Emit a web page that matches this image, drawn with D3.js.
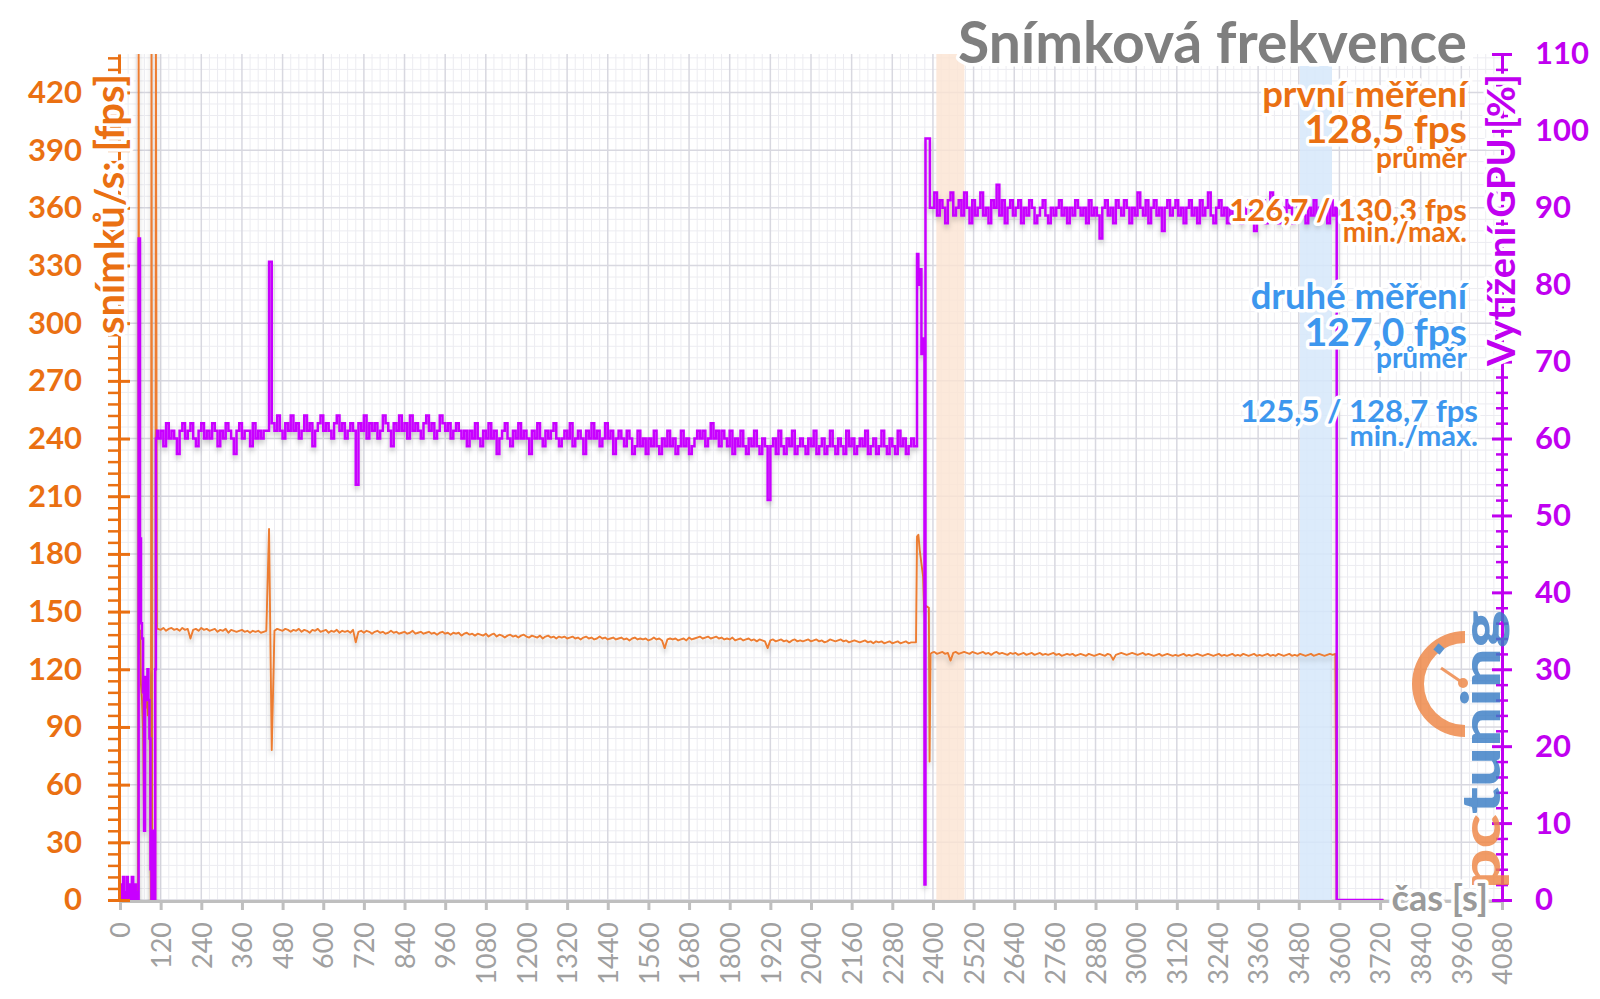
<!DOCTYPE html>
<html><head><meta charset="utf-8">
<script src="https://cdn.jsdelivr.net/npm/d3@7"></script>
<style>body{margin:0;background:#fff}svg{display:block}text{font-family:Lato,"Open Sans",sans-serif}</style>
</head><body><svg id="c" width="1600" height="999"></svg>
<script>
// ---------- DATA ----------
const xTicks = d3.range(0, 4081, 120);
const fpsTicks = d3.range(0, 421, 30);
const gpuTicks = d3.range(0, 111, 10);

// irregular start section [time s, value]
const gpuStart = [[0,0],[3,2],[6,0],[9,3],[12,0],[16,1],[20,3],[23,0],[27,2],[31,0],[35,3],[39,0],[43,2],[47,0],[52,1],[54,0],[55,86],[59,47],[62,36],[65,34],[68,27],[71,9],[74,29],[77,26],[81,30],[84,26],[87,21],[90,4],[93,0],[97,9],[101,0],[104,30],[106,60],[109,61]];
const fpsStart = [[0,0],[53,0],[55,460],[57,128],[60,140],[62,112],[65,104],[68,88],[71,40],[73,110],[76,100],[79,112],[82,96],[85,104],[88,82],[91,0],[93,460],[95,0],[104,0],[106,460],[109,141]];

// first run: samples every 8 s from 112 s
const run1Start = 112, run2Start = 2396, runStep = 8;
const gpuRun1 = [
60,61,59,62,60,61,60,58,61,62, 60,61,62,60,59,61,62,60,61,60, 62,61,59,61,60,62,61,60,58,61, 62,60,61,61,59,62,60,61,60,61,
61,83,62,61,63,61,60,62,61,63, 61,62,60,61,63,61,62,59,61,62, 63,61,62,61,60,62,63,61,62,60, 61,62,61,54,62,61,63,60,62,61,
62,60,61,63,62,61,59,62,61,63, 61,62,60,63,61,62,61,60,62,63, 61,62,60,61,63,62,61,62,60,61, 62,61,60,61,59,61,60,62,60,59,
61,60,62,60,61,58,60,61,62,60, 59,61,60,62,60,61,60,58,61,60, 62,60,59,61,60,61,62,60,59,60, 61,60,62,59,60,61,60,58,61,60,
62,60,61,59,60,62,60,61,58,60, 61,60,59,61,60,58,59,61,59,60, 58,60,59,61,59,58,60,59,61,59, 60,58,59,61,59,60,58,59,60,61,
60,61,59,60,62,60,61,59,61,60, 59,61,58,60,59,61,59,58,60,59, 61,59,58,60,59,52,59,60,58,61, 59,58,60,59,61,58,59,60,59,58,
60,59,61,58,59,60,58,59,61,59, 58,60,59,58,61,59,60,58,59,60, 59,61,58,59,60,58,59,61,59,58, 60,59,58,61,59,60,58,59,60,59];
const fpsRun1 = [
141,140.5,141.5,140,141,141.5,140.5,141,140,141.5, 140.5,141,136,140.5,141,140,141.5,140.5,141,140,
140.5,141,139.5,140.5,140,141,139,140.5,140,139.5, 140,140.5,139.5,140,139,140,139.5,140,139,139.5,
140,193,78,140,141,140.5,140,141,140.5,139.5, 140.5,140,141,139.5,140.5,140,139,140.5,140,141,
139.5,140,140.5,139,140,139.5,140.5,139,140,139.5, 140,139,140.5,134,139.5,140,139,140,139.5,138.5,
139.5,140,139,139.5,138.5,139,140,139,139.5,138.5, 139,139.5,138.5,139,140,138.5,139,139.5,138.5,139,
139.5,138.5,139,138,139,139.5,138.5,139,138,139, 138.5,139,137.5,138.5,139,138,138.5,137.5,138.5,138,
137.5,138.5,137,138,138.5,137,138,137.5,136.5,137.5, 138,137,137.5,136.5,137.5,138,137,136.5,137.5,137,
136.5,137.5,136,137,137.5,136.5,137,136,137,136.5, 137,136,136.5,137,136,136.5,135.5,136.5,137,136,
136.5,135.5,136,137,136,136.5,135.5,136,136.5,135.5, 136,136.5,135.5,136,135,136,136.5,135.5,136,135.5,
136,135,135.5,136.5,135.5,136,135,131,135.5,136, 135.5,136,135,135.5,136,135,136.5,135.5,136,136.5,
137,136,136.5,137,136,136.5,137,136,136.5,135.5, 136,135.5,136.5,135,135.5,136,135,135.5,136,135,
135.5,134.5,135.5,135,134.5,131,135,135.5,134.5,135, 135.5,134.5,135,134,135,135.5,134.5,135,134.5,135,
135.5,134.5,135,135.5,134.5,135,134,134.5,135.5,135, 134.5,135,135.5,134.5,135,134,134.5,135,134.5,134,
134.5,135,134,134.5,133.5,134.5,134,134.5,133.5,134, 134.5,133.5,134,134.5,133.5,134,134.5,133.5,134,134];

// transition between the two measurements [time s, value]
const gpuMid = [[2350,59],[2353,84],[2357,80],[2360,82],[2366,71],[2371,73],[2375,2],[2378,99],[2388,99],[2391,90]];
const fpsMid = [[2350,134],[2353,189],[2357,190],[2361,182],[2366,175],[2371,168],[2374,150],[2379,153],[2388,152],[2390,72],[2393,128]];

// second run: samples every 8 s from 2396 s
const gpuRun2 = [
90,92,89,91,90,88,91,92,89,90, 91,89,92,90,88,91,89,90,92,89, 90,88,91,90,93,89,91,88,90,91, 89,90,91,88,90,89,91,90,88,89,
90,91,89,88,90,89,90,91,89,90, 88,90,89,91,90,89,90,88,91,89, 90,89,86,90,91,89,90,88,91,90, 89,91,90,88,90,89,92,90,89,91,
88,90,91,89,90,87,90,91,89,90, 91,89,90,88,90,91,89,90,88,91, 89,90,92,89,88,90,91,89,90,88, 90,89,91,90,88,89,90,91,89,87,
90,89,91,88,90,92,89,90,88,90, 89,91,90,88,89,90,91,89,88,90, 89,91,88,90,89,90,88,91,89,90];
const fpsRun2 = [
128.5,129,128,128.5,129,128,128.5,124.5,128.5,129, 128,128.5,129,128.5,128,129,128.5,128,128.5,129,
128,128.5,127.5,128.5,129,128,128.5,128,127.5,128.5, 128,128.5,127.5,128,128.5,127.5,128,128.5,127.5,128,
128.5,127.5,128,127.5,128,128.5,127.5,128,127,127.5, 128,127.5,128,127,127.5,128,127.5,127,128,127.5,
127,127.5,128,127.5,127,128,127.5,125,127.5,128, 128.5,128,127.5,128,128.5,128,127.5,128,128.5,127.5,
128,127.5,127,127.5,128,127,127.5,128,127.5,127, 127.5,127,127.5,128,127,127.5,127,127.5,128,127.5,
127,127.5,128,127.5,127,127.5,128,127,127.5,127, 127.5,128,127,127.5,127,128,127.5,127,127.5,128,
127,127.5,127,127.5,128,127,127.5,127,128,127.5, 127,127.5,128,127,127.5,127,128,127.5,127,127.5,
128,127,127.5,128,127.5,127,127.5,128,127.5,128];

const gpuEnd = [[3592,0],[3730,0]];
const fpsEnd = [[3592,0],[3730,0]];

// highlighted intervals [from s, to s]
const bandFirst = [2410, 2493];
const bandSecond = [3483, 3578];

const titleText = "Snímková frekvence";
const first = ["první měření","128,5 fps","průměr","126,7 / 130,3 fps","min./max."];
const second = ["druhé měření","127,0 fps","průměr","125,5 / 128,7 fps","min./max."];

// ---------- BUILD ----------
const runPts = (start, arr) => arr.map((v,i)=>[start + i*runStep, v]);
const gpuData = [...gpuStart, ...runPts(run1Start,gpuRun1), ...gpuMid, ...runPts(run2Start,gpuRun2), ...gpuEnd];
const fpsData = [...fpsStart, ...runPts(run1Start,fpsRun1), ...fpsMid, ...runPts(run2Start,fpsRun2), ...fpsEnd];

const L=120, R=1502, T=54, B=900;
const ORANGE_T="#EA7012", ORANGE_L="#ED7D31", MAG="#C800FF", MAG_T="#C000F0", BLUE="#3D97EE", GRAY="#7F7F7F";
const svg = d3.select("#c");
const x = d3.scaleLinear().domain([0,4080]).range([L,R]);
const yF = d3.scaleLinear().domain([0,440]).range([B,T]);
const yG = d3.scaleLinear().domain([0,110]).range([B,T]);

const defs = svg.append("defs");
defs.append("clipPath").attr("id","clip").append("rect").attr("x",L).attr("y",T).attr("width",R-L).attr("height",B-T);
const f = defs.append("filter").attr("id","sh").attr("x","-5%").attr("y","-5%").attr("width","110%").attr("height","120%");
f.append("feDropShadow").attr("dx",0).attr("dy",4).attr("stdDeviation",2.5).attr("flood-color","#000").attr("flood-opacity",0.2);

// grid
const grid = svg.append("g");
grid.selectAll(".vm").data(d3.range(0,4081,24).filter(d=>d%120)).join("line")
  .attr("x1",d=>x(d)).attr("x2",d=>x(d)).attr("y1",T).attr("y2",B).attr("stroke","#ECECF1").attr("stroke-width",1);
grid.selectAll(".hm").data(d3.range(0,441,6).filter(d=>d%30)).join("line").attr("class","hm")
  .attr("x1",L).attr("x2",R).attr("y1",d=>yF(d)).attr("y2",d=>yF(d)).attr("stroke","#ECECF1").attr("stroke-width",1);
grid.selectAll(".vM").data(xTicks).join("line").attr("class","vM")
  .attr("x1",d=>x(d)).attr("x2",d=>x(d)).attr("y1",T).attr("y2",B).attr("stroke","#D8D8E0").attr("stroke-width",1.5);
grid.selectAll(".hM").data(fpsTicks).join("line").attr("class","hM")
  .attr("x1",L).attr("x2",R).attr("y1",d=>yF(d)).attr("y2",d=>yF(d)).attr("stroke","#D8D8E0").attr("stroke-width",1.5);

// bands
svg.append("rect").attr("x",x(bandFirst[0])).attr("width",x(bandFirst[1])-x(bandFirst[0])).attr("y",T).attr("height",B-T).attr("fill","#FBE4D2").attr("opacity",0.8);
svg.append("rect").attr("x",x(bandSecond[0])).attr("width",x(bandSecond[1])-x(bandSecond[0])).attr("y",T).attr("height",B-T).attr("fill","#D6E8FA").attr("opacity",0.85);

// x axis
const xa = svg.append("g").attr("transform",`translate(0,${B+1})`)
  .call(d3.axisBottom(x).tickValues(xTicks).tickSize(9).tickSizeOuter(0).tickFormat(d3.format("d")));
xa.select(".domain").attr("stroke","#BFBFBF").attr("stroke-width",3);
xa.selectAll(".tick line").attr("stroke","#BFBFBF").attr("stroke-width",3);
xa.selectAll(".tick text").attr("transform","rotate(-90)").attr("x",-21).attr("y",0).attr("dy","0.36em")
  .style("text-anchor","end").attr("fill","#A0A0A0").style("font-size","27px").style("font-family","Lato");

// lines
const plot = svg.append("g").attr("clip-path","url(#clip)");
const lineF = d3.line().x(d=>x(d[0])).y(d=>yF(d[1]));
const lineG = d3.line().curve(d3.curveStepAfter).x(d=>x(d[0])).y(d=>yG(d[1]));
plot.append("path").attr("d",lineF(fpsData)).attr("fill","none").attr("stroke",ORANGE_L).attr("stroke-width",1.9).attr("stroke-linejoin","round").attr("filter","url(#sh)");
plot.append("path").attr("d",lineG(gpuData)).attr("fill","none").attr("stroke",MAG).attr("stroke-width",2.5).attr("filter","url(#sh)");

// left axis
const la = svg.append("g").attr("transform",`translate(${L-1},0)`);
la.call(d3.axisLeft(yF).tickValues(d3.range(0,441,6).filter(d=>d%30)).tickSize(11).tickSizeOuter(0).tickFormat(""));
la.selectAll(".tick line").attr("stroke",ORANGE_T).attr("stroke-width",2.5);
la.select(".domain").attr("stroke",ORANGE_T).attr("stroke-width",3);
const la2 = svg.append("g").attr("transform",`translate(${L-1},0)`);
la2.call(d3.axisLeft(yF).tickValues(fpsTicks).tickSize(11).tickSizeOuter(0).tickPadding(26));
la2.select(".domain").remove();
la2.selectAll(".tick line").attr("x2",-11).attr("x1",11).attr("stroke",ORANGE_T).attr("stroke-width",3);
la2.selectAll(".tick text").attr("fill",ORANGE_T).style("font-size","31px").style("font-weight","bold").style("font-family","Lato");

// right axis
const ra = svg.append("g").attr("transform",`translate(${R},0)`);
ra.call(d3.axisRight(yG).tickValues(d3.range(0,111,2).filter(d=>d%10)).tickSize(6).tickSizeOuter(0).tickFormat(""));
ra.selectAll(".tick line").attr("x1",-6).attr("stroke",MAG_T).attr("stroke-width",2.5);
ra.select(".domain").attr("stroke",MAG_T).attr("stroke-width",3);
const ra2 = svg.append("g").attr("transform",`translate(${R},0)`);
ra2.call(d3.axisRight(yG).tickValues(gpuTicks).tickSize(10).tickSizeOuter(0).tickPadding(23));
ra2.select(".domain").remove();
ra2.selectAll(".tick line").attr("x1",-10).attr("stroke",MAG_T).attr("stroke-width",3);
ra2.selectAll(".tick text").attr("fill",MAG_T).style("font-size","31px").style("font-weight","bold").style("font-family","Lato");

// logo
const lg = svg.append("g").attr("opacity",0.82);
lg.append("path").attr("transform","translate(1465,684)")
  .attr("d",d3.arc()({innerRadius:41,outerRadius:53,startAngle:Math.PI,endAngle:2*Math.PI})).attr("fill","#EE8645");
lg.append("line").attr("x1",1441).attr("y1",668).attr("x2",1463).attr("y2",683).attr("stroke","#EE8645").attr("stroke-width",3);
lg.append("circle").attr("cx",1463).attr("cy",683).attr("r",5).attr("fill","#EE8645");
lg.append("rect").attr("x",1435).attr("y",645).attr("width",8).attr("height",8).attr("fill","#3A7DC5").attr("transform","rotate(40,1439,649)");
const lt = lg.append("text").attr("transform","translate(1500,889) rotate(-90) scale(1.34,1)").style("font-size","53px").style("font-weight","900");
lt.append("tspan").attr("fill","#EE8645").text("pc");
lt.append("tspan").attr("fill","#3A7DC5").text("tuning");

// texts with halo
function label(px, py, str, size, color, anchor, rot){
  return svg.append("text").attr("text-anchor",anchor||"end")
    .attr("transform",`translate(${px},${py})`+(rot?` rotate(${rot})`:""))
    .style("font-size",size+"px").style("font-weight","bold").attr("fill",color)
    .attr("stroke","#fff").attr("stroke-width",7).attr("stroke-linejoin","round").attr("paint-order","stroke").text(str);
}
// white box behind chart title (right of the first band)
const titleBox = svg.append("rect").attr("fill","#fff");
const tt = label(1467,63,titleText,57,GRAY);
const bb = tt.node().getBBox();
const boxLeft = Math.max(1467-bb.width-6, x(bandFirst[1])+1);
titleBox.attr("x",boxLeft).attr("y",0).attr("width",1473-boxLeft).attr("height",66);

label(1467,107,first[0],36.5,ORANGE_T);
label(1467,143,first[1],39,ORANGE_T);
label(1467,168,first[2],28,ORANGE_T);
label(1467,221,first[3],31,ORANGE_T);
label(1467,242,first[4],28,ORANGE_T);
label(1467,309,second[0],36.5,BLUE);
label(1467,346,second[1],39,BLUE);
label(1467,368,second[2],28,BLUE);
label(1478,422,second[3],31,BLUE);
label(1478,446,second[4],29,BLUE);
label(1488,911,"čas [s]",36,"#9A9A9A");
label(124,204,"snímků/s: [fps]",40,ORANGE_T,"middle",-90);
label(1515,220,"Vytížení GPU [%]",38,MAG_T,"middle",-90);
</script></body></html>
